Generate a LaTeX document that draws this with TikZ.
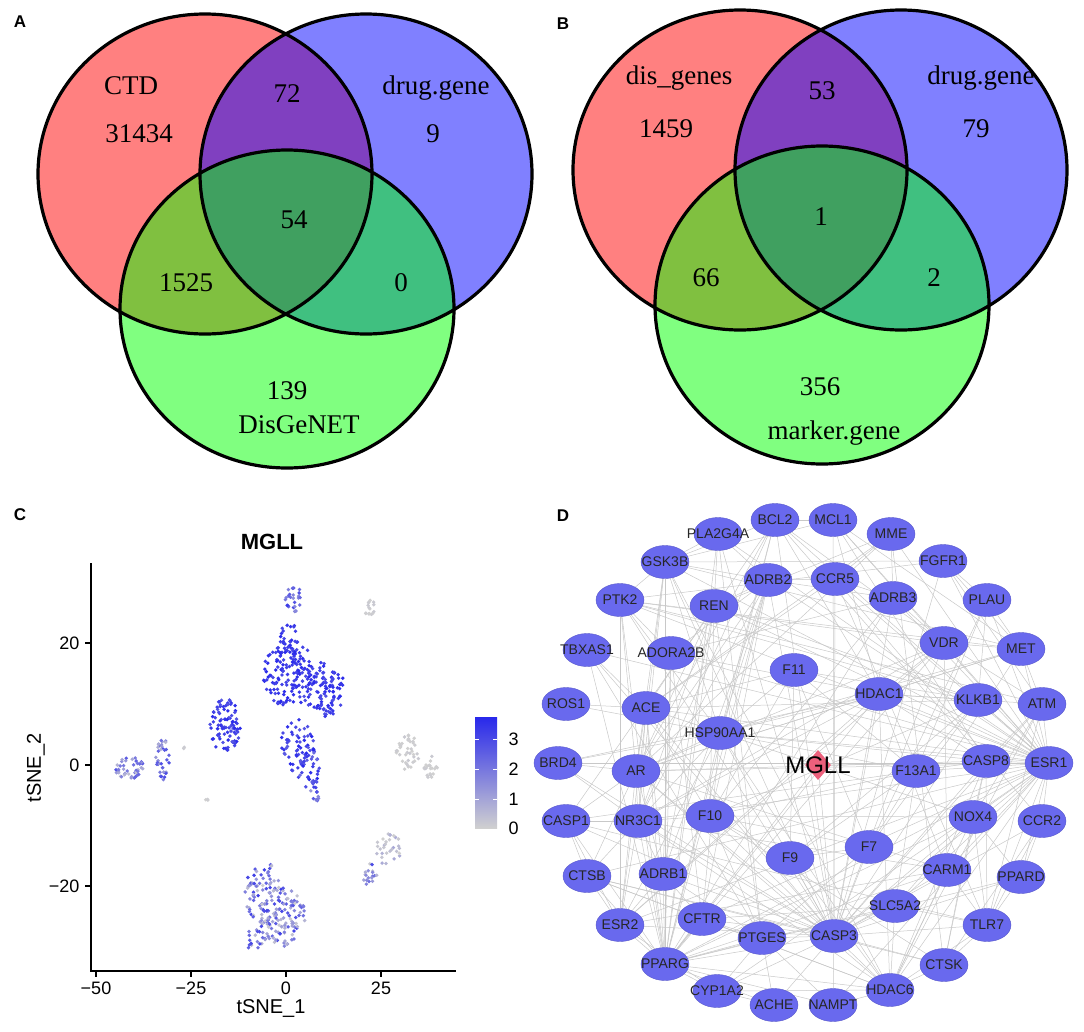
\documentclass[tikz,border=0pt]{standalone}
\usepackage{fontspec}
\setmainfont{Liberation Serif}
\setsansfont{Liberation Sans}
\usetikzlibrary{shapes.geometric,backgrounds}

\definecolor{vred}{RGB}{255,128,128}
\definecolor{vblue}{RGB}{128,128,255}
\definecolor{vgreen}{RGB}{128,255,128}
\definecolor{vrb}{RGB}{128,64,192}
\definecolor{vrg}{RGB}{128,192,64}
\definecolor{vbg}{RGB}{64,192,128}
\definecolor{vall}{RGB}{64,160,96}
\definecolor{chi}{RGB}{40,40,235}
\definecolor{clo}{RGB}{208,208,208}
\definecolor{genecol}{RGB}{105,105,238}
\definecolor{hubcol}{RGB}{236,96,124}
\definecolor{edgecol}{RGB}{200,200,200}

\tikzset{
  vennline/.style={draw=black,line width=3.2pt},
  vnum/.style={font=\fontsize{27}{27}\selectfont},
  panel/.style={font=\fontsize{17}{17}\selectfont\sffamily\bfseries},
  axlab/.style={font=\fontsize{18}{18}\selectfont\sffamily},
  gene/.style={ellipse,fill=genecol,draw=genecol!85!black,line width=0.4pt,
    minimum width=48pt,minimum height=33pt,inner sep=0pt,
    text=black!85,font=\fontsize{14}{14}\selectfont\sffamily},
  hub/.style={diamond,fill=hubcol,minimum width=26pt,minimum height=30pt,inner sep=0pt,
    font=\fontsize{24}{24}\selectfont\sffamily},
  edge/.style={draw=edgecol,line width=0.5pt}
}

% three sets, the same layout in A and B
\newcommand\vennsets{%
  \fill[vred] (205,174) ellipse [x radius=167pt,y radius=160pt];
  \fill[vblue] (366,174) ellipse [x radius=166pt,y radius=160pt];
  \fill[vgreen] (287,309) ellipse [x radius=167pt,y radius=159pt];
  \begin{scope}
    \clip (205,174) ellipse [x radius=167pt,y radius=160pt];
    \fill[vrb] (366,174) ellipse [x radius=166pt,y radius=160pt];
    \fill[vrg] (287,309) ellipse [x radius=167pt,y radius=159pt];
  \end{scope}
  \begin{scope}
    \clip (366,174) ellipse [x radius=166pt,y radius=160pt];
    \fill[vbg] (287,309) ellipse [x radius=167pt,y radius=159pt];
  \end{scope}
  \begin{scope}
    \clip (205,174) ellipse [x radius=167pt,y radius=160pt];
    \clip (366,174) ellipse [x radius=166pt,y radius=160pt];
    \fill[vall] (287,309) ellipse [x radius=167pt,y radius=159pt];
  \end{scope}
  \draw[vennline] (205,174) ellipse [x radius=167pt,y radius=160pt]
    (366,174) ellipse [x radius=166pt,y radius=160pt]
    (287,309) ellipse [x radius=167pt,y radius=159pt];
}

\begin{document}
\begin{tikzpicture}[x=1pt,y=-1pt]
\useasboundingbox (0,0) rectangle (1084,1031);

% A
\vennsets
\node[panel] at (20,22) {A};
\node[vnum] at (131,86) {CTD};
\node[vnum] at (139,134) {31434};
\node[vnum] at (287,94) {72};
\node[vnum] at (436,88) {drug.gene};
\node[vnum] at (433,134) {9};
\node[vnum] at (294,220) {54};
\node[vnum] at (186,283) {1525};
\node[vnum] at (401,283) {0};
\node[vnum] at (287,391) {139};
\node[vnum] at (299,425) {DisGeNET};

% B
\begin{scope}[shift={(535,-4)}]
  \vennsets
\end{scope}
\node[panel] at (563,24) {B};
\node[vnum] at (679,78) {dis\_genes};
\node[vnum] at (666,129) {1459};
\node[vnum] at (822,91) {53};
\node[vnum] at (981,78) {drug.gene};
\node[vnum] at (976,129) {79};
\node[vnum] at (821,217) {1};
\node[vnum] at (706,278) {66};
\node[vnum] at (934,278) {2};
\node[vnum] at (820,387) {356};
\node[vnum] at (834,433) {marker.gene};

% C
\node[panel] at (20,515) {C};
\node[font=\fontsize{22}{22}\selectfont\sffamily\bfseries] at (272,542) {MGLL};
\begin{scope}[shift={(286,765)},x=3.8pt,y=6.05pt]
  \pgfmathsetseed{42}
  \foreach \cx/\cy/\sx/\sy/\n/\pa/\pb in {
      1/15/7/5.5/150/80/100, 10/12.5/5.5/4.5/100/75/100, 1/21/3/3/25/80/100,
      3/3/4.5/4.5/60/70/100, 6/-1/3/3.5/30/55/100, 8/-4/1.5/2/15/30/90,
      2/27.5/2.2/2.2/25/40/90, -16/6.5/4/4.5/90/70/100,
      -41/-0.5/4/1.8/45/10/75, -32.5/1/2/3.5/35/10/80,
      -6/-21/5/5/80/0/90, -1/-25/6/5/110/0/85, -8/-29/3/2/20/10/85,
      27/-14/3.5/3/30/0/25, 22/-18/2/2/18/0/80, 32/2/3/3/40/0/5,
      38/-0.5/2/2/20/0/5, 22/26/1.5/1.5/15/0/5, -21/-6/0.5/0.5/3/0/5,
      -27/3/0.3/0.3/2/0/5}{
    \foreach \i in {1,...,\n}{
      \pgfmathsetmacro\rr{sqrt(rnd)}
      \pgfmathsetmacro\aa{360*rnd}
      \pgfmathsetmacro\px{\cx+\sx*\rr*cos(\aa)}
      \pgfmathsetmacro\py{\cy+\sy*\rr*sin(\aa)}
      \pgfmathtruncatemacro\pp{\pa+(\pb-\pa)*rnd}
      \fill[chi!\pp!clo] (\px,\py) circle (1.9pt);
    }
  }
\end{scope}
\draw[line width=1.6pt] (91,563) -- (91,971) -- (456,971);
\foreach \t/\x in {−50/96,−25/191,0/286,25/381}{
  \draw[line width=1.2pt] (\x,971) -- (\x,977);
  \node[axlab] at (\x,988) {\t};
}
\foreach \t/\y in {20/643,0/765,−20/886}{
  \draw[line width=1.2pt] (85,\y) -- (91,\y);
  \node[axlab,anchor=east] at (83,\y) {\t};
}
\node[axlab,font=\fontsize{20}{20}\selectfont\sffamily] at (271,1008) {tSNE\_1};
\node[axlab,font=\fontsize{20}{20}\selectfont\sffamily,rotate=90] at (36,768) {tSNE\_2};
% colour bar
\shade[top color=chi,bottom color=clo] (475,717) rectangle (497,828);
\foreach \t/\y in {3/739,2/769,1/799,0/828}{
  \ifnum\t>0
    \draw[white,line width=0.8pt] (475,\y) -- (479,\y) (493,\y) -- (497,\y);
  \fi
  \node[axlab,anchor=west] at (505,\y) {\t};
}

% D
\node[panel] at (563,516) {D};
\foreach \n/\x/\y in {BCL2/775/520, MCL1/833/520, PLA2G4A/718/534, MME/891/534,
    GSK3B/665/562, FGFR1/943/561, ADRB2/768/580, CCR5/835/579, PTK2/620/600,
    REN/714/606, ADRB3/893/598, PLAU/987/600, TBXAS1/587/650, ADORA2B/671/653,
    VDR/944/643, MET/1021/649, F11/794/670, HDAC1/879/694, KLKB1/978/700,
    ATM/1042/704, ROS1/566/704, ACE/646/708, HSP90AA1/720/733, BRD4/558/763,
    AR/636/771, F13A1/916/771, CASP8/986/761, ESR1/1049/763, CASP1/566/821,
    NR3C1/638/821, F10/710/816, NOX4/973/817, CCR2/1042/821, F7/869/847,
    F9/790/858, CARM1/947/870, CTSB/587/876, ADRB1/663/874, PPARD/1021/877,
    SLC5A2/895/906, CFTR/702/919, ESR2/620/925, TLR7/987/925, PTGES/762/938,
    CASP3/834/936, PPARG/665/964, CTSK/944/965, CYP1A2/717/991,
    HDAC6/890/990, ACHE/774/1005, NAMPT/833/1005}
  \node[gene] (\n) at (\x,\y) {\makebox[0pt]{\n}};
\node[hub] (MGLL) at (818,765) {\makebox[0pt]{MGLL}};

\begin{scope}[on background layer]
\foreach \a/\b in {BCL2/MCL1, BCL2/CASP3, BCL2/CASP8, BCL2/ESR1, BCL2/PPARG,
    BCL2/HSP90AA1, BCL2/AR, BCL2/CASP1, BCL2/GSK3B, BCL2/HDAC1, BCL2/NR3C1, BCL2/VDR,
    MCL1/CASP3, MCL1/GSK3B, MCL1/HDAC1, MCL1/ESR1, MCL1/MET, MCL1/CASP8, MCL1/VDR,
    PLA2G4A/PTGES, PLA2G4A/PPARG, PLA2G4A/ESR1, PLA2G4A/CASP3, PLA2G4A/GSK3B,
    PLA2G4A/REN, PLA2G4A/ADRB2, MME/ACE, MME/REN, MME/ESR1, MME/AR, MME/ADRB3,
    MME/CCR5, MME/CTSK, GSK3B/PTK2, GSK3B/AR, GSK3B/HSP90AA1, GSK3B/CASP3,
    GSK3B/ESR1, GSK3B/NR3C1, GSK3B/PPARG, GSK3B/HDAC6, GSK3B/MET, GSK3B/FGFR1,
    GSK3B/ADRB2, GSK3B/ESR2, FGFR1/MET, FGFR1/PLAU, FGFR1/PTK2, FGFR1/ESR1,
    FGFR1/ATM, FGFR1/CASP3, ADRB2/ADRB1, ADRB2/ADRB3, ADRB2/AR, ADRB2/PPARG,
    ADRB2/CCR5, ADRB2/ESR1, ADRB2/HSP90AA1, ADRB2/NR3C1, ADRB2/F10, ADRB2/CFTR,
    ADRB2/CASP3, ADRB2/REN, CCR5/CCR2, CCR5/CASP3, CCR5/TLR7, CCR5/ESR1,
    CCR5/ADRB3, CCR5/ACE, PTK2/MET, PTK2/ESR1, PTK2/CASP3, PTK2/HSP90AA1, PTK2/AR,
    PTK2/PPARG, PTK2/ADORA2B, PTK2/ESR2, PTK2/VDR, PTK2/ATM, PTK2/KLKB1, REN/ACE,
    REN/ADRB1, REN/AR, REN/F10, REN/PPARG, REN/ESR1, REN/NR3C1, REN/PTGES,
    ADRB3/ADRB1, ADRB3/PPARG, ADRB3/CASP3, ADRB3/ADORA2B, ADRB3/ESR1, ADRB3/VDR,
    PLAU/MET, PLAU/ESR1, PLAU/F13A1, PLAU/KLKB1, PLAU/F7, TBXAS1/PTGES,
    TBXAS1/PPARG, TBXAS1/CASP3, TBXAS1/ACE, TBXAS1/ESR1, ADORA2B/ADRB1,
    ADORA2B/ADRB2, ADORA2B/PPARG, ADORA2B/CFTR, ADORA2B/ESR1, ADORA2B/HDAC1,
    VDR/AR, VDR/ESR1, VDR/ESR2, VDR/PPARG, VDR/NR3C1, VDR/HDAC1, VDR/CASP3,
    VDR/MET, VDR/CARM1, VDR/ATM, MET/ESR1, MET/HDAC1, MET/CASP3, MET/ATM,
    MET/HSP90AA1, MET/AR, F11/F10, F11/F9, F11/F7, F11/F13A1, F11/KLKB1, F11/ACE,
    F11/HSP90AA1, HDAC1/HDAC6, HDAC1/AR, HDAC1/ESR1, HDAC1/ESR2, HDAC1/NR3C1,
    HDAC1/CARM1, HDAC1/BRD4, HDAC1/CASP3, HDAC1/PPARG, HDAC1/HSP90AA1,
    HDAC1/CASP8, HDAC1/ATM, HDAC1/KLKB1, KLKB1/F10, KLKB1/F7, KLKB1/F9, KLKB1/ACE,
    KLKB1/REN, KLKB1/F13A1, KLKB1/ESR1, ATM/CASP3, ATM/ESR1, ATM/CASP8,
    ATM/HDAC6, ATM/TLR7, ATM/NOX4, ROS1/ACE, ROS1/HSP90AA1, ACE/AR, ACE/CASP3,
    ACE/ESR1, ACE/NR3C1, ACE/PPARG, ACE/ADRB1, ACE/F10, ACE/NOX4, HSP90AA1/AR,
    HSP90AA1/ESR1, HSP90AA1/NR3C1, HSP90AA1/CASP3, HSP90AA1/CASP8, HSP90AA1/BRD4,
    HSP90AA1/HDAC6, HSP90AA1/PPARG, HSP90AA1/ESR2, HSP90AA1/CFTR, HSP90AA1/F13A1,
    BRD4/AR, BRD4/ESR1, BRD4/NR3C1, BRD4/CASP3, AR/ESR1, AR/NR3C1, AR/CARM1,
    AR/ESR2, AR/HDAC6, AR/PPARG, AR/CASP3, AR/CASP1, AR/CTSB, AR/ADRB1, AR/CASP8,
    F13A1/F10, F13A1/F7, F13A1/F9, F13A1/ESR1, F13A1/SLC5A2, CASP8/ESR1,
    CASP8/CASP3, CASP8/CASP1, CASP8/NOX4, CASP8/TLR7, CASP8/HDAC6, CASP8/CTSK,
    ESR1/ESR2, ESR1/NR3C1, ESR1/CARM1, ESR1/PPARG, ESR1/CASP3, ESR1/HDAC6,
    ESR1/NOX4, ESR1/TLR7, ESR1/CCR2, ESR1/PPARD, ESR1/SLC5A2, ESR1/CFTR,
    ESR1/CTSB, ESR1/NAMPT, ESR1/CYP1A2, CASP1/CTSB, CASP1/CASP3, CASP1/NR3C1,
    CASP1/ESR2, CASP1/TLR7, CASP1/PPARG, NR3C1/ESR2, NR3C1/PPARG, NR3C1/CASP3,
    NR3C1/CARM1, NR3C1/CTSB, NR3C1/ADRB1, NR3C1/HDAC6, NR3C1/F10, F10/F7, F10/F9,
    F10/CASP3, F10/CTSK, F10/NOX4, F10/PTGES, NOX4/CASP3, NOX4/PPARG, NOX4/TLR7,
    NOX4/CTSK, NOX4/PPARD, NOX4/SLC5A2, NOX4/HDAC6, CCR2/PPARD, CCR2/TLR7,
    CCR2/CASP3, CCR2/CTSK, F7/F9, F7/CASP3, F7/PTGES, F9/CASP3, F9/HDAC6,
    CARM1/HDAC6, CARM1/ESR2, CARM1/CASP3, CARM1/TLR7, CARM1/PPARG, CTSB/CASP3,
    CTSB/CTSK, CTSB/ESR2, CTSB/CFTR, CTSB/PPARG, CTSB/HDAC6, ADRB1/PPARG,
    ADRB1/ESR2, ADRB1/CFTR, ADRB1/CASP3, ADRB1/PTGES, PPARD/PPARG, PPARD/TLR7,
    PPARD/CASP3, SLC5A2/PPARG, SLC5A2/CASP3, SLC5A2/HDAC6, SLC5A2/CFTR,
    SLC5A2/TLR7, CFTR/PPARG, CFTR/CASP3, CFTR/PTGES, CFTR/HDAC6, ESR2/PPARG,
    ESR2/CASP3, ESR2/CYP1A2, TLR7/CASP3, TLR7/CTSK, TLR7/HDAC6, PTGES/PPARG,
    PTGES/CASP3, PTGES/ACHE, PTGES/CYP1A2, PTGES/NAMPT, CASP3/PPARG, CASP3/HDAC6,
    CASP3/CTSK, CASP3/ACHE, CASP3/NAMPT, CASP3/CYP1A2, PPARG/CYP1A2, PPARG/HDAC6,
    PPARG/ACHE, PPARG/NAMPT, CTSK/HDAC6, CYP1A2/ACHE, CYP1A2/HDAC6, HDAC6/NAMPT,
    MGLL/PPARG, MGLL/CASP3, MGLL/ESR1}
  \draw[edge] (\a) -- (\b);
\end{scope}
\end{tikzpicture}
\end{document}
